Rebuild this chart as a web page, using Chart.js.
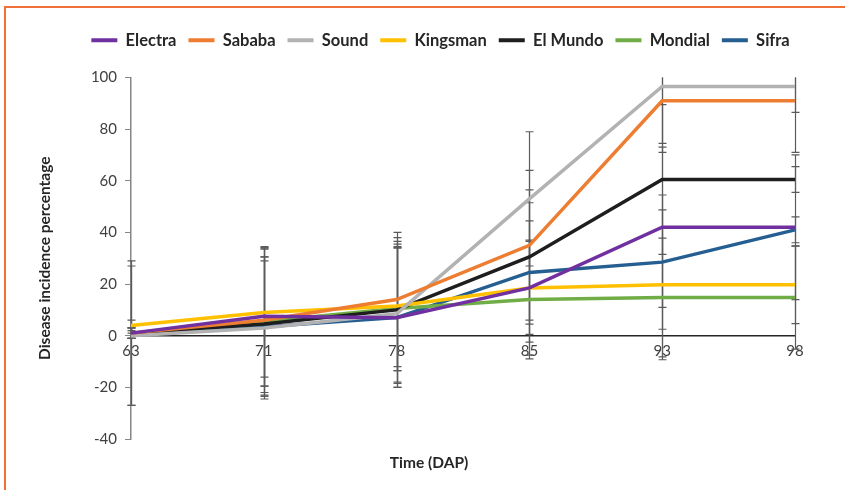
<!DOCTYPE html>
<html>
<head>
<meta charset="utf-8">
<title>Disease incidence</title>
<script src="https://cdn.jsdelivr.net/npm/chart.js@4.4.1/dist/chart.umd.min.js"></script>
<style>
  html, body { margin: 0; padding: 0; background: #fff; }
  #wrap { position: relative; width: 845px; height: 490px; overflow: hidden; }
  #frame {
    position: absolute; left: 4px; top: 6px; width: 900px; height: 520px;
    border: 2px solid #F0703A; box-sizing: border-box; pointer-events: none;
  }
  #chart { position: absolute; left: 0; top: 0; }
</style>
</head>
<body>
<div id="wrap">
  <canvas id="chart" width="845" height="490"></canvas>
  <div id="frame"></div>
</div>
<script>
"use strict";

/**************************************************************
 * Data
 **************************************************************/
const days = ["63", "71", "78", "85", "93", "98"];

const electra = [1, 7.5, 7, 18.5, 42, 42];
const sababa = [1, 6, 14, 35, 91, 91];
const sound = [0, 3, 8.5, 53, 96.5, 96.5];
const kingsman = [4, 9, 11.5, 18.5, 19.7, 19.7];
const elMundo = [1, 4.5, 10, 30.5, 60.5, 60.5];
const mondial = [0, 5.5, 10.5, 14, 14.8, 14.8];
const sifra = [1, 3.5, 7, 24.5, 28.5, 41];

// +/- error per point
const electraErr = [2, 27, 27, 26, 31, 28];
const sababaErr = [2, 28, 26, 29, 20, 20];
const soundErr = [1, 26, 27, 26, 22, 10];
const kingsmanErr = [2, 25, 25, 18, 29, 15];
const elMundoErr = [28, 29, 28, 26, 29, 5];
const mondialErr = [27, 25, 24, 23, 23, 20];
const sifraErr = [2, 27, 27, 27, 26, 5];

const yTicks = [-40, -20, 0, 20, 40, 60, 80, 100];

const X_TITLE = "Time (DAP)";
const Y_TITLE = "Disease incidence percentage";

const FONT = "Lato, 'Open Sans', sans-serif";

/**************************************************************
 * Datasets
 **************************************************************/
function series(label, data, errors, color) {
  return {
    label: label,
    data: data,
    errors: errors,
    borderColor: color,
    backgroundColor: color,
    borderWidth: 3.5,
    pointRadius: 0,
    pointHoverRadius: 0,
    tension: 0,
    fill: false,
  };
}

const datasets = [
  series("Electra", electra, electraErr, "#7030A0"),
  series("Sababa", sababa, sababaErr, "#ED7D31"),
  series("Sound", sound, soundErr, "#B2B2B2"),
  series("Kingsman", kingsman, kingsmanErr, "#FFC000"),
  series("El Mundo", elMundo, elMundoErr, "#1E1E1E"),
  series("Mondial", mondial, mondialErr, "#70AD47"),
  series("Sifra", sifra, sifraErr, "#255E91"),
];

/**************************************************************
 * Plugins
 **************************************************************/
const errorBars = {
  id: "errorBars",
  beforeDatasetsDraw(chart) {
    const { ctx, chartArea, scales } = chart;
    ctx.save();
    ctx.beginPath();
    ctx.rect(chartArea.left - 10, chartArea.top, chartArea.width + 20, chartArea.height);
    ctx.clip();
    ctx.strokeStyle = "#5A5A5A";
    ctx.lineWidth = 1.2;
    chart.data.datasets.forEach((ds) => {
      ds.errors.forEach((e, j) => {
        const px = Math.round(scales.x.getPixelForValue(j)) + 0.5;
        const top = scales.y.getPixelForValue(ds.data[j] + e);
        const bot = scales.y.getPixelForValue(ds.data[j] - e);
        ctx.beginPath();
        ctx.moveTo(px, top);
        ctx.lineTo(px, bot);
        ctx.moveTo(px - 4, top);
        ctx.lineTo(px + 4, top);
        ctx.moveTo(px - 4, bot);
        ctx.lineTo(px + 4, bot);
        ctx.stroke();
      });
    });
    ctx.restore();
  },
};

const xTitle = {
  id: "xTitle",
  afterDraw(chart) {
    const { ctx, chartArea } = chart;
    ctx.save();
    ctx.font = "bold 15.5px " + FONT;
    ctx.fillStyle = "#262626";
    ctx.textAlign = "center";
    ctx.textBaseline = "middle";
    ctx.fillText(X_TITLE, (chartArea.left + chartArea.right) / 2 - 34, chartArea.bottom + 24);
    ctx.restore();
  },
};

// extra room under the legend, and nudge it right like the original
const legendGap = {
  id: "legendGap",
  beforeInit(chart) {
    const fit = chart.legend.fit;
    chart.legend.fit = function () {
      fit.call(this);
      this.height += 19;
    };
  },
  afterLayout(chart) {
    chart.legend.left += 27;
    chart.legend.right += 27;
  },
};

/**************************************************************
 * Chart
 **************************************************************/
new Chart(document.getElementById("chart"), {
  type: "line",
  data: { labels: days, datasets: datasets },
  plugins: [errorBars, xTitle, legendGap],
  options: {
    responsive: false,
    animation: false,
    devicePixelRatio: 1,
    layout: { padding: { top: 20, left: 32, right: 50, bottom: 51 } },
    plugins: {
      tooltip: { enabled: false },
      legend: {
        position: "top",
        labels: {
          boxWidth: 26,
          boxHeight: 4,
          padding: 12,
          color: "#262626",
          font: { family: FONT, size: 16.5, weight: "bold" },
          generateLabels(chart) {
            return Chart.defaults.plugins.legend.labels
              .generateLabels(chart)
              .map((it) => ({ ...it, lineWidth: 0 }));
          },
        },
      },
    },
    scales: {
      x: {
        type: "category",
        position: { y: 0 },
        offset: false,
        grid: { display: false },
        border: { display: true, color: "#262626", width: 1.5 },
        ticks: {
          color: "#404040",
          font: { family: FONT, size: 15 },
          padding: -2,
          maxRotation: 0,
        },
      },
      y: {
        min: yTicks[0],
        max: yTicks[yTicks.length - 1],
        afterBuildTicks(scale) {
          scale.ticks = yTicks.map((v) => ({ value: v }));
        },
        grid: {
          display: true,
          drawOnChartArea: false,
          drawTicks: true,
          tickLength: 6,
          color: "#868686",
        },
        border: { display: true, color: "#868686", width: 1.5 },
        ticks: {
          color: "#404040",
          font: { family: FONT, size: 15 },
          padding: 8,
        },
        title: {
          display: true,
          text: Y_TITLE,
          color: "#262626",
          font: { family: FONT, size: 15.5, weight: "bold" },
          padding: { top: 4, bottom: 4 },
        },
        afterFit(scale) {
          scale.width = 99;
        },
      },
    },
  },
});
</script>
</body>
</html>
